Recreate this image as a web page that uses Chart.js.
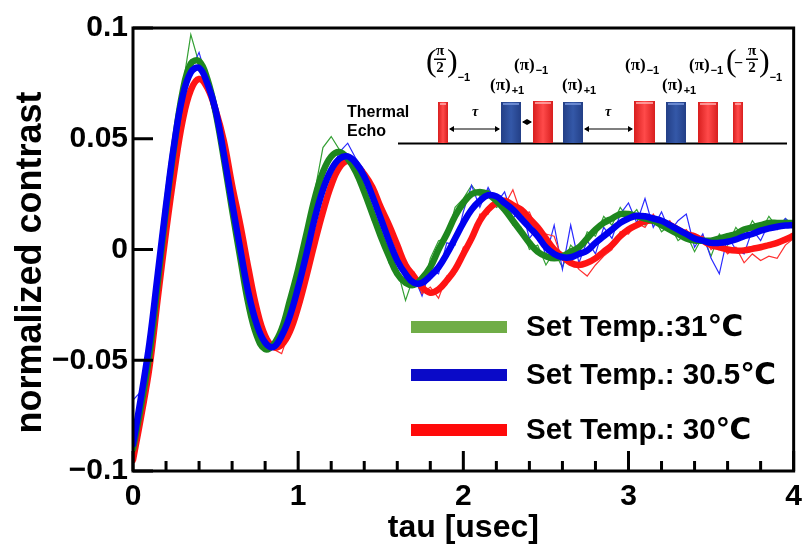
<!DOCTYPE html>
<html><head><meta charset="utf-8">
<script src="https://cdn.jsdelivr.net/npm/chart.js@4"></script>
<style>html,body{margin:0;padding:0;background:#fff;}canvas{display:block;}</style>
</head><body>
<canvas id="c" width="810" height="552" style="width:810px;height:552px"></canvas>
<script>
const tau = [0,0.05,0.1,0.15,0.2,0.25,0.3,0.35,0.4,0.45,0.5,0.55,0.6,0.65,0.7,0.75,0.8,0.85,0.9,0.95,
1.0,1.05,1.1,1.15,1.2,1.25,1.3,1.35,1.4,1.45,1.5,1.55,1.6,1.65,1.7,1.75,1.8,1.85,1.9,1.95,
2.0,2.05,2.1,2.15,2.2,2.25,2.3,2.35,2.4,2.45,2.5,2.55,2.6,2.65,2.7,2.75,2.8,2.85,2.9,2.95,
3.0,3.05,3.1,3.15,3.2,3.25,3.3,3.35,3.4,3.45,3.5,3.55,3.6,3.65,3.7,3.75,3.8,3.85,3.9,3.95,4.0];

const fit31 = [-0.090,-0.070,-0.047,-0.015,0.018,0.047,0.071,0.084,0.085,0.077,0.062,0.041,0.018,-0.004,-0.025,-0.039,-0.045,-0.043,-0.036,-0.023,
-0.009,0.007,0.023,0.035,0.042,0.044,0.041,0.035,0.026,0.016,0.006,-0.003,-0.011,-0.015,-0.016,-0.013,-0.008,0.000,0.007,0.015,
0.021,0.025,0.026,0.025,0.022,0.018,0.013,0.008,0.003,-0.001,-0.003,-0.004,-0.003,-0.001,0.001,0.005,0.009,0.012,0.014,0.016,
0.016,0.015,0.014,0.013,0.011,0.009,0.007,0.005,0.004,0.004,0.004,0.005,0.006,0.007,0.009,0.010,0.011,0.012,0.012,0.012,0.012];
const raw31 = [-0.093,-0.071,-0.046,-0.016,0.019,0.046,0.073,0.097,0.084,0.079,0.061,0.042,0.017,-0.005,-0.024,-0.040,-0.044,-0.042,-0.037,-0.021,
-0.010,0.010,0.026,0.046,0.051,0.045,0.043,0.034,0.029,0.013,0.008,-0.006,-0.009,-0.023,-0.012,-0.020,-0.004,0.004,0.005,0.019,
0.023,0.029,0.024,0.027,0.019,0.021,0.011,0.010,0.000,0.002,-0.007,-0.001,-0.008,0.002,-0.002,0.008,0.006,0.015,0.011,0.019,
0.014,0.018,0.011,0.015,0.008,0.011,0.004,0.007,-0.001,0.006,-0.003,0.007,0.002,0.010,0.005,0.013,0.008,0.015,0.010,0.014,0.011];

const fit305 = [-0.088,-0.066,-0.042,-0.011,0.020,0.048,0.069,0.080,0.082,0.075,0.063,0.043,0.021,0.000,-0.020,-0.034,-0.042,-0.044,-0.039,-0.030,
-0.017,-0.002,0.014,0.027,0.036,0.041,0.042,0.039,0.033,0.024,0.014,0.004,-0.005,-0.011,-0.015,-0.015,-0.012,-0.008,-0.002,0.005,
0.012,0.018,0.022,0.0245,0.024,0.021,0.018,0.014,0.010,0.006,0.001,-0.002,-0.0035,-0.0035,-0.002,-0.0005,0.003,0.006,0.009,0.012,
0.014,0.0152,0.015,0.014,0.013,0.011,0.009,0.007,0.005,0.004,0.003,0.003,0.0035,0.0045,0.006,0.007,0.0085,0.0095,0.0103,0.0108,0.011];
const raw305 = [-0.068,-0.064,-0.041,-0.012,0.021,0.047,0.070,0.081,0.089,0.076,0.062,0.044,0.020,0.001,-0.021,-0.033,-0.043,-0.043,-0.040,-0.029,
-0.018,0.000,0.013,0.029,0.035,0.044,0.048,0.041,0.036,0.022,0.017,0.002,-0.002,-0.014,-0.012,-0.021,-0.009,-0.011,0.003,0.002,
0.017,0.029,0.019,0.028,0.021,0.026,0.014,0.019,0.005,0.010,-0.003,0.011,-0.009,0.011,-0.006,0.004,-0.002,0.010,0.005,0.016,
0.021,0.012,0.023,0.010,0.017,0.008,0.013,0.016,0.001,0.007,-0.004,-0.011,0.006,0.000,-0.002,0.009,0.004,0.012,0.009,0.014,0.010];

const fit30 = [-0.095,-0.075,-0.053,-0.022,0.008,0.035,0.058,0.072,0.077,0.073,0.063,0.049,0.029,0.011,-0.009,-0.027,-0.039,-0.044,-0.043,-0.037,
-0.026,-0.012,0.003,0.017,0.029,0.037,0.040,0.038,0.034,0.028,0.019,0.011,0.002,-0.007,-0.012,-0.017,-0.0195,-0.018,-0.014,-0.009,
-0.002,0.005,0.013,0.018,0.021,0.022,0.020,0.018,0.014,0.010,0.005,0.000,-0.003,-0.006,-0.007,-0.006,-0.004,-0.001,0.002,0.006,
0.009,0.011,0.0127,0.013,0.012,0.011,0.009,0.007,0.006,0.004,0.002,0.001,0.000,-0.0005,-0.0004,0.0003,0.001,0.002,0.003,0.0045,0.0063];
const raw30 = [-0.096,-0.076,-0.052,-0.023,0.009,0.034,0.059,0.071,0.078,0.072,0.064,0.048,0.030,0.010,-0.010,-0.026,-0.040,-0.045,-0.047,-0.036,
-0.027,-0.011,0.002,0.018,0.028,0.039,0.042,0.037,0.036,0.026,0.021,0.009,0.004,-0.009,-0.010,-0.020,-0.017,-0.022,-0.012,-0.011,
0.001,0.003,0.016,0.016,0.024,0.020,0.027,0.016,0.017,0.008,0.007,0.006,-0.005,-0.004,-0.009,-0.012,-0.007,-0.003,0.000,0.008,
0.007,0.012,0.010,0.016,0.010,0.013,0.007,0.009,0.004,0.006,0.000,0.003,-0.002,0.001,-0.006,-0.002,-0.005,-0.003,-0.004,0.002,0.005];

const seriesLabels = ['Set Temp.:31\u2103', 'Set Temp.: 30.5\u2103', 'Set Temp.: 30\u2103'];
const xTickValues = [0, 1, 2, 3, 4];
const xTickLabels = ['0', '1', '2', '3', '4'];
const xMinorTickValues = [0.2,0.4,0.6,0.8,1.2,1.4,1.6,1.8,2.2,2.4,2.6,2.8,3.2,3.4,3.6,3.8];
const yTickValues = [-0.1, -0.05, 0, 0.05, 0.1];
const yTickLabels = ['\u22120.1', '\u22120.05', '0', '0.05', '0.1'];
const xTitle = 'tau [usec]';
const yTitle = 'normalized contrast';

const SANS = '"Liberation Sans", Arial, "DejaVu Sans", sans-serif';
const SERIF = '"Liberation Serif", "DejaVu Serif", serif';
const COLORS = {
  greenFit: '#1e871e', greenRaw: '#34a034', greenLegend: '#70ad47',
  blueFit: '#0000f0', blueRaw: '#2a2aff', blueLegend: '#0a0ac8',
  redFit: '#ff1414', redRaw: '#ff3030', redLegend: '#ff0a0a'
};

const pts = arr => tau.map((t, i) => ({x: t, y: arr[i]}));
const rawDs = (arr, c) => ({data: pts(arr), borderColor: c, borderWidth: 1.2, pointRadius: 0, tension: 0, order: 10, fill: false});
const fitDs = (arr, c, label, order) => ({label, data: pts(arr), borderColor: c, borderWidth: 6.5, pointRadius: 0, tension: 0.4, order, fill: false, borderCapStyle: 'round', borderJoinStyle: 'round'});

const framePlugin = {
  id: 'frame',
  afterDatasetsDraw(chart) {
    const {ctx, chartArea: a, scales: {x, y}} = chart;
    ctx.save();
    ctx.strokeStyle = '#000';
    ctx.lineWidth = 3;
    ctx.lineCap = 'butt';
    ctx.strokeRect(a.left, a.top, a.right - a.left, a.bottom - a.top);
    ctx.beginPath();
    yTickValues.forEach(v => { const py = y.getPixelForValue(v); ctx.moveTo(a.left, py); ctx.lineTo(a.left + 20, py); });
    xTickValues.forEach(v => { const px = x.getPixelForValue(v); ctx.moveTo(px, a.bottom); ctx.lineTo(px, a.bottom - 20); });
    xMinorTickValues.forEach(v => { const px = x.getPixelForValue(v); ctx.moveTo(px, a.bottom); ctx.lineTo(px, a.bottom - 10); });
    ctx.stroke();
    // y axis title (drawn manually to match its off-centre placement)
    ctx.fillStyle = '#000';
    ctx.font = 'bold 36px ' + SANS;
    ctx.textAlign = 'center';
    ctx.textBaseline = 'middle';
    ctx.translate(31, (a.top + a.bottom) / 2 + 13);
    ctx.rotate(-Math.PI / 2);
    ctx.fillText(yTitle, 0, 0);
    ctx.restore();
  }
};

const legendPlugin = {
  id: 'customLegend',
  afterDraw(chart) {
    const {ctx} = chart;
    const items = [
      {label: seriesLabels[0], color: COLORS.greenLegend, y: 327},
      {label: seriesLabels[1], color: COLORS.blueLegend, y: 375},
      {label: seriesLabels[2], color: COLORS.redLegend, y: 430}
    ];
    ctx.save();
    items.forEach(it => {
      ctx.fillStyle = it.color;
      ctx.fillRect(411, it.y - 6, 96, 12);
      ctx.fillStyle = '#000';
      ctx.font = 'bold 29.5px ' + SANS;
      ctx.textBaseline = 'middle';
      ctx.textAlign = 'left';
      ctx.fillText(it.label, 526, it.y + 1);
    });
    ctx.restore();
  }
};

function drawPulse(ctx, x0, x1, top, base, kind) {
  const g = ctx.createLinearGradient(x0, 0, x1, 0);
  if (kind === 'r') { g.addColorStop(0, '#d81e1e'); g.addColorStop(0.5, '#ff4a4a'); g.addColorStop(1, '#d81e1e'); }
  else { g.addColorStop(0, '#233f86'); g.addColorStop(0.5, '#3458a8'); g.addColorStop(1, '#233f86'); }
  ctx.fillStyle = g;
  ctx.fillRect(x0, top, x1 - x0, base - top);
  ctx.fillStyle = kind === 'r' ? 'rgba(255,170,170,0.8)' : 'rgba(120,150,220,0.8)';
  ctx.fillRect(x0 + 2, top + 1, x1 - x0 - 4, 2);
}
function arrow(ctx, x0, x1, y) {
  ctx.beginPath(); ctx.moveTo(x0 + 1, y); ctx.lineTo(x1 - 1, y); ctx.stroke();
  ctx.beginPath(); ctx.moveTo(x0, y); ctx.lineTo(x0 + 5, y - 3); ctx.lineTo(x0 + 5, y + 3); ctx.closePath(); ctx.fill();
  ctx.beginPath(); ctx.moveTo(x1, y); ctx.lineTo(x1 - 5, y - 3); ctx.lineTo(x1 - 5, y + 3); ctx.closePath(); ctx.fill();
}
function piLabel(ctx, x, yc, sub) {
  ctx.font = 'bold 17px ' + SERIF;
  ctx.textBaseline = 'middle'; ctx.textAlign = 'left';
  ctx.fillText('(\u03c0)', x, yc);
  const w = ctx.measureText('(\u03c0)').width;
  ctx.font = 'bold 11px ' + SANS;
  ctx.fillText(sub, x + w + 1, yc + 5);
}
function fracLabel(ctx, x, neg) {
  ctx.textBaseline = 'middle'; ctx.textAlign = 'left';
  ctx.font = '32px ' + SERIF;
  ctx.fillText('(', x, 63);
  let cx = x + 14;
  if (neg) {
    ctx.font = 'bold 16px ' + SERIF;
    ctx.fillText('\u2212', x + 8, 64);
    cx = x + 26;
  }
  ctx.font = 'bold 15px ' + SERIF;
  ctx.textAlign = 'center';
  ctx.fillText('\u03c0', cx, 51);
  ctx.fillText('2', cx, 68);
  ctx.fillRect(cx - 6, 58.5, 12, 1.5);
  ctx.textAlign = 'left';
  ctx.font = '32px ' + SERIF;
  ctx.fillText(')', cx + 7, 63);
  const w = ctx.measureText(')').width;
  ctx.font = 'bold 11px ' + SANS;
  ctx.fillText('\u22121', cx + 7 + w, 78);
}

const insetPlugin = {
  id: 'inset',
  afterDraw(chart) {
    const ctx = chart.ctx;
    ctx.save();
    ctx.fillStyle = '#000'; ctx.strokeStyle = '#000';
    ctx.font = 'bold 16px ' + SANS;
    ctx.textBaseline = 'alphabetic'; ctx.textAlign = 'left';
    ctx.fillText('Thermal', 347, 117);
    ctx.fillText('Echo', 347, 136);
    ctx.lineWidth = 2;
    ctx.beginPath(); ctx.moveTo(398, 143.5); ctx.lineTo(787, 143.5); ctx.stroke();
    const base = 143;
    drawPulse(ctx, 438, 448, 102, base, 'r');
    drawPulse(ctx, 501, 521, 102, base, 'b');
    drawPulse(ctx, 533, 553, 101, base, 'r');
    drawPulse(ctx, 563, 583, 102, base, 'b');
    drawPulse(ctx, 634, 655, 101, base, 'r');
    drawPulse(ctx, 666, 686, 102, base, 'b');
    drawPulse(ctx, 698, 718, 102, base, 'r');
    drawPulse(ctx, 733, 743, 102, base, 'r');
    ctx.fillStyle = '#000';
    ctx.lineWidth = 1.2;
    arrow(ctx, 449, 500, 129);
    arrow(ctx, 584, 633, 129);
    arrow(ctx, 522, 532, 122);
    ctx.font = 'italic bold 14px ' + SERIF;
    ctx.textAlign = 'center'; ctx.textBaseline = 'middle';
    ctx.fillText('\u03c4', 475, 112);
    ctx.fillText('\u03c4', 608, 112);
    fracLabel(ctx, 426, false);
    piLabel(ctx, 514, 66, '\u22121');
    piLabel(ctx, 490, 86, '+1');
    piLabel(ctx, 562, 86, '+1');
    piLabel(ctx, 625, 66, '\u22121');
    piLabel(ctx, 662, 86, '+1');
    piLabel(ctx, 689, 66, '\u22121');
    fracLabel(ctx, 726, true);
    ctx.restore();
  }
};

new Chart(document.getElementById('c'), {
  type: 'line',
  data: {
    datasets: [
      rawDs(raw30, COLORS.redRaw),
      rawDs(raw305, COLORS.blueRaw),
      rawDs(raw31, COLORS.greenRaw),
      fitDs(fit30, COLORS.redFit, seriesLabels[2], 3),
      fitDs(fit31, COLORS.greenFit, seriesLabels[0], 2),
      fitDs(fit305, COLORS.blueFit, seriesLabels[1], 1)
    ]
  },
  options: {
    responsive: false,
    animation: false,
    devicePixelRatio: 1,
    layout: {padding: {top: 28, right: 12, left: 0, bottom: 0}},
    scales: {
      x: {
        type: 'linear', min: 0, max: 4,
        afterBuildTicks: s => { s.ticks = xTickValues.map(v => ({value: v})); },
        ticks: {callback: (v, i) => xTickLabels[i], color: '#000', padding: 8, maxRotation: 0, autoSkip: false,
                font: {family: SANS, size: 30, weight: 'bold'}},
        grid: {display: false, drawTicks: false},
        border: {display: false},
        title: {display: true, text: xTitle, color: '#000', font: {family: SANS, size: 32, weight: 'bold', lineHeight: '40px'}},
        afterFit: s => { s.height = 81; }
      },
      y: {
        min: -0.1, max: 0.1,
        afterBuildTicks: s => { s.ticks = yTickValues.map(v => ({value: v})); },
        ticks: {callback: (v, i) => yTickLabels[i], color: '#000', padding: 5, autoSkip: false,
                font: {family: SANS, size: 30, weight: 'bold'}},
        grid: {display: false, drawTicks: false},
        border: {display: false},
        title: {display: false},
        afterFit: s => { s.width = 133; }
      }
    },
    plugins: {legend: {display: false}, tooltip: {enabled: false}}
  },
  plugins: [framePlugin, legendPlugin, insetPlugin]
});
</script>
</body></html>
